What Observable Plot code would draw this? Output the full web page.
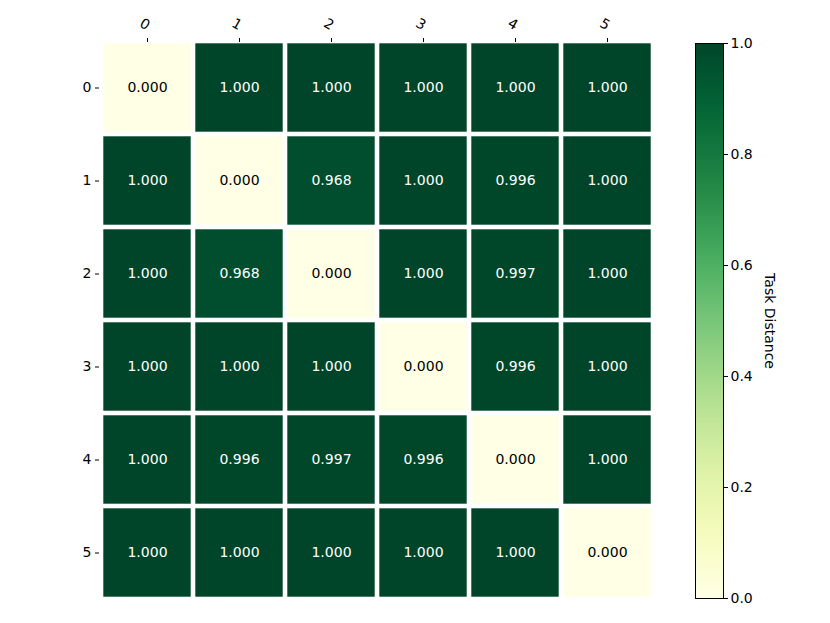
<!DOCTYPE html>
<html>
<head>
<meta charset="utf-8">
<script src="https://cdn.jsdelivr.net/npm/d3@7"></script>
<script src="https://cdn.jsdelivr.net/npm/@observablehq/plot@0.6"></script>
<style>
  html, body { margin: 0; padding: 0; background: #fff; }
  #wrap { position: relative; width: 830px; height: 623px; }
  #wrap svg { position: absolute; left: 0; top: 0; font-family: "DejaVu Sans", sans-serif; }
</style>
</head>
<body>
<div id="wrap"></div>
<script>
const tasks = ["0", "1", "2", "3", "4", "5"];
const row0 = [0.000, 1.000, 1.000, 1.000, 1.000, 1.000];
const row1 = [1.000, 0.000, 0.968, 1.000, 0.996, 1.000];
const row2 = [1.000, 0.968, 0.000, 1.000, 0.997, 1.000];
const row3 = [1.000, 1.000, 1.000, 0.000, 0.996, 1.000];
const row4 = [1.000, 0.996, 0.997, 0.996, 0.000, 1.000];
const row5 = [1.000, 1.000, 1.000, 1.000, 1.000, 0.000];
const rows = [row0, row1, row2, row3, row4, row5];
const colorTicks = [0, 0.2, 0.4, 0.6, 0.8, 1.0];
const barLabel = "Task Distance";

const cells = [];
rows.forEach((r, i) => r.forEach((v, j) => cells.push({row: tasks[i], col: tasks[j], value: v})));

const W = 830, H = 623;
const colorOpts = {type: "linear", domain: [0, 1], interpolate: d3.interpolateYlGn};
const baseStyle = "font-family: 'DejaVu Sans', sans-serif; font-size: 14px; color: black; background: transparent;";

const main = Plot.plot({
  width: W, height: H,
  marginLeft: 99, marginRight: 175, marginTop: 41, marginBottom: 24,
  style: baseStyle,
  x: {type: "band", domain: tasks, padding: 0, axis: null},
  y: {type: "band", domain: tasks, padding: 0, axis: null},
  color: colorOpts,
  marks: [
    Plot.cell(cells, {x: "col", y: "row", fill: "value", inset: 2.3}),
    Plot.text(cells, {x: "col", y: "row", text: d => d.value.toFixed(3),
      fill: d => d.value > 0.5 ? "white" : "black", fontSize: 14}),
    Plot.axisX({anchor: "top", tickSize: 4, tickPadding: 2, tickFormat: () => "", label: null}),
    Plot.text(tasks, {x: d => d, frameAnchor: "top", dy: -22, rotate: 30, text: d => d, fontSize: 14, textAnchor: "middle", fill: "black"}),
    Plot.axisY({anchor: "left", tickSize: 4, tickPadding: 4, label: null, fontSize: 14})
  ]
});

const stops = d3.range(0, 1, 0.002);
const bar = Plot.plot({
  width: W, height: H,
  marginLeft: 695, marginRight: 107, marginTop: 43, marginBottom: 25,
  style: baseStyle,
  x: {domain: [0, 1], axis: null},
  y: {domain: [0, 1], axis: null},
  color: colorOpts,
  marks: [
    Plot.rect(stops, {x1: 0, x2: 1, y1: d => d, y2: d => Math.min(1, d + 0.005), fill: d => d + 0.001, shapeRendering: "crispEdges"}),
    Plot.frame({stroke: "black", strokeWidth: 1}),
    Plot.axisY(colorTicks, {anchor: "right", tickSize: 4, tickPadding: 3, tickFormat: ".1f", label: null, fontSize: 14}),
    Plot.text([barLabel], {frameAnchor: "right", dx: 46, rotate: 90, text: d => d, fontSize: 14, fill: "black", textAnchor: "middle"})
  ]
});

document.getElementById("wrap").append(main, bar);
</script>
</body>
</html>
